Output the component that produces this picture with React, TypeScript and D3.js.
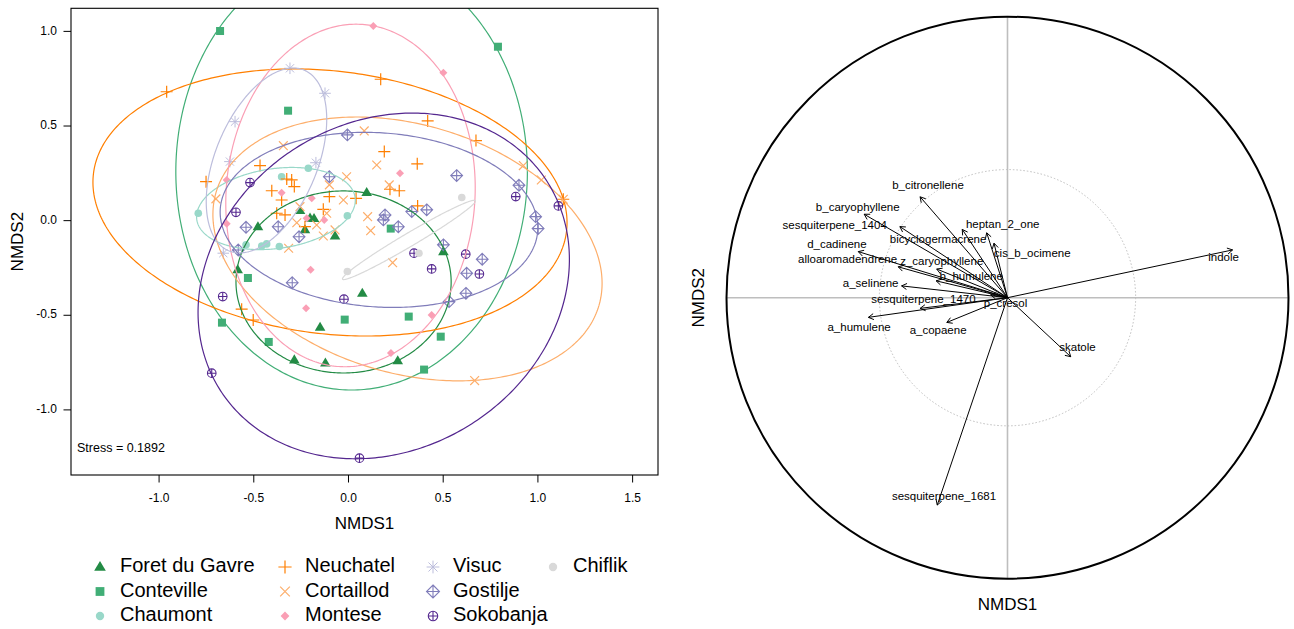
import React from "react";
import * as d3 from "d3";

// ---------- Left panel data (NMDS site scores) ----------
const groups = ["Foret du Gavre", "Conteville", "Chaumont", "Neuchatel", "Cortaillod", "Montese", "Visuc", "Gostilje", "Sokobanja", "Chiflik"];
const groupColors = ["#238b45", "#41ae76", "#99d8c9", "#ff7f00", "#fdae6b", "#fa9fb5", "#bcbddc", "#807dba", "#54278f", "#d9d9d9"];
const groupSymbols = ["triangle", "square", "circle", "plus", "cross", "diamond", "asterisk", "diamondPlus", "circlePlus", "circle"];

const foretPts = [[-0.256, 0.053], [-0.203, 0.013], [-0.182, 0.011], [-0.23, -0.049], [-0.071, -0.081], [0.096, 0.148], [-0.478, -0.032], [-0.585, -0.26], [-0.286, -0.736], [-0.122, -0.753], [-0.15, -0.563], [0.073, -0.384], [0.26, -0.741], [0.501, -0.164]];
const contevillePts = [[-0.678, 1.002], [-0.319, 0.581], [0.789, 0.919], [0.223, -0.042], [-0.531, -0.303], [-0.668, -0.539], [-0.421, -0.641], [-0.02, -0.523], [0.318, -0.507], [0.487, -0.613], [0.399, -0.787]];
const chaumontPts = [[-0.212, 0.277], [-0.353, 0.232], [-0.793, 0.039], [-0.006, 0.026], [-0.541, -0.128], [-0.458, -0.134], [-0.432, -0.123], [-0.365, -0.137]];
const neuchatelPts = [[-0.96, 0.681], [0.17, 0.747], [0.418, 0.527], [0.673, 0.423], [1.134, 0.113], [0.189, 0.365], [0.363, 0.3], [0.219, 0.166], [0.268, 0.158], [0.04, 0.118], [0.365, 0.078], [-0.752, 0.206], [-0.467, 0.291], [-0.326, 0.22], [-0.3, 0.215], [-0.286, 0.18], [-0.405, 0.158], [-0.353, 0.109], [-0.101, 0.127], [-0.133, 0.06], [-0.379, 0.039], [-0.335, 0.03], [-0.23, -0.032], [-0.564, -0.468], [-0.503, -0.525]];
const cortaillodPts = [[-0.344, 0.396], [-0.7, 0.115], [-0.01, 0.232], [-0.027, 0.109], [-0.101, 0.189], [-0.256, 0.074], [-0.115, 0.039], [-0.273, -0.011], [-0.168, -0.023], [-0.071, -0.049], [-0.133, -0.081], [0.083, 0.474], [0.149, 0.294], [0.215, 0.189], [0.101, 0.021], [0.117, -0.053], [0.923, 0.291], [1.018, 0.215], [0.233, -0.222], [0.666, -0.845], [-0.316, -0.146], [1.134, 0.113]];
const montesePts = [[0.131, 1.029], [0.501, 0.782], [-0.643, 0.215], [-0.353, 0.148], [-0.194, 0.118], [-0.128, 0.004], [-0.221, 0.013], [-0.643, -0.017], [0.272, 0.25], [-0.2, -0.26], [-0.224, -0.463], [0.224, -0.7], [0.439, -0.498]];
const visucPts = [[-0.309, 0.805], [-0.124, 0.673], [-0.599, 0.523], [-0.626, 0.312], [-0.172, 0.306], [-0.661, -0.172]];
const gostiljePts = [[-0.006, 0.453], [-0.101, 0.232], [-0.371, -0.032], [-0.541, -0.035], [-0.261, -0.085], [0.571, 0.238], [0.9, 0.187], [0.988, 0.021], [1.001, -0.042], [0.193, 0.03], [0.184, 0.004], [0.334, 0.048], [0.413, 0.057], [0.263, -0.032], [0.501, -0.128], [0.706, -0.204], [0.624, -0.278], [0.62, -0.384], [0.531, -0.428], [-0.582, -0.155], [-0.297, -0.328]];
const sokobanjaPts = [[-0.52, 0.201], [-0.594, 0.044], [-0.664, -0.401], [-0.722, -0.806], [-0.024, -0.415], [0.058, -1.255], [0.346, -0.172], [0.439, -0.255], [0.619, -0.177], [0.691, -0.282], [0.883, 0.127], [1.108, 0.078]];
const chiflikPts = [[0.598, 0.122], [0.372, -0.172], [-0.006, -0.269]];
const groupPoints = [foretPts, contevillePts, chaumontPts, neuchatelPts, cortaillodPts, montesePts, visucPts, gostiljePts, sokobanjaPts, chiflikPts];

// ellipse parameters per group (centre, semi-axes, rotation in degrees)
const ellipseCx = [-0.026, 0.0164, -0.383, -0.0977, 0.3115, 0.0106, -0.433, 0.161, 0.186, 0.319];
const ellipseCy = [-0.324, 0.259, 0.064, 0.096, -0.1495, 0.133, 0.318, 0.004, -0.345, -0.102];
const ellipseRx = [0.568, 0.928, 0.422, 1.258, 1.054, 0.657, 0.517, 0.84, 1.024, 0.407];
const ellipseRy = [0.481, 1.154, 0.211, 0.694, 0.656, 0.906, 0.269, 0.46, 0.864, 0.035];
const ellipseAngle = [0, 0, 8, -7, -16.6, -4, 67.4, -4, 32.6, 30.6];

const xTicks = [-1.0, -0.5, 0.0, 0.5, 1.0, 1.5];
const yTicks = [-1.0, -0.5, 0.0, 0.5, 1.0];
const stressText = "Stress = 0.1892";

// ---------- Right panel data (variable vectors) ----------
const varNames = ["indole", "b_citronellene", "b_caryophyllene", "sesquiterpene_1404", "heptan_2_one", "bicyclogermacrene", "cis_b_ocimene", "d_cadinene", "alloaromadendrene", "z_caryophyllene", "b_humulene", "a_selinene", "sesquiterpene_1470", "p_cresol", "a_humulene", "a_copaene", "skatole", "sesquiterpene_1681"];
const varX = [0.801, -0.311, -0.51, -0.383, -0.161, -0.074, -0.048, -0.531, -0.389, -0.252, -0.254, -0.377, -0.311, -0.06, -0.495, -0.216, 0.225, -0.25];
const varY = [0.17, 0.359, 0.297, 0.253, 0.243, 0.231, 0.194, 0.164, 0.11, 0.102, 0.06, 0.042, -0.038, 0.01, -0.07, -0.088, -0.21, -0.738];
const labelX = [0.769, -0.283, -0.533, -0.615, -0.017, -0.247, 0.088, -0.607, -0.569, -0.234, -0.129, -0.487, -0.299, -0.007, -0.528, -0.247, 0.249, -0.226];
const labelY = [0.141, 0.398, 0.32, 0.257, 0.26, 0.205, 0.157, 0.188, 0.133, 0.128, 0.074, 0.048, -0.009, -0.021, -0.106, -0.12, -0.18, -0.71];
const innerRadius = 0.456;

const FONT = "'Liberation Sans', Arial, Helvetica, sans-serif";

function Symbol({ x, y, type, color, k = 1 }: { x: number; y: number; type: string; color: string; k?: number }) {
  const sw = 1.2;
  switch (type) {
    case "triangle": {
      const r = 5.3 * k;
      return <path d={`M${x},${y - r * 1.05}L${x + r},${y + r * 0.65}L${x - r},${y + r * 0.65}Z`} fill={color} />;
    }
    case "square": {
      const h = 4 * k;
      return <rect x={x - h} y={y - h} width={2 * h} height={2 * h} fill={color} />;
    }
    case "circle":
      return <circle cx={x} cy={y} r={3.8 * k} fill={color} />;
    case "plus": {
      const h = 6 * k;
      return <path d={`M${x - h},${y}H${x + h}M${x},${y - h}V${y + h}`} stroke={color} strokeWidth={sw} fill="none" />;
    }
    case "cross": {
      const h = 4.4 * k;
      return <path d={`M${x - h},${y - h}L${x + h},${y + h}M${x - h},${y + h}L${x + h},${y - h}`} stroke={color} strokeWidth={sw} fill="none" />;
    }
    case "diamond": {
      const h = 4 * k;
      return <path d={`M${x},${y - h}L${x + h},${y}L${x},${y + h}L${x - h},${y}Z`} fill={color} />;
    }
    case "asterisk": {
      const h = 5.8 * k;
      const d = 4.1 * k;
      return <path d={`M${x - h},${y}H${x + h}M${x},${y - h}V${y + h}M${x - d},${y - d}L${x + d},${y + d}M${x - d},${y + d}L${x + d},${y - d}`} stroke={color} strokeWidth={1} fill="none" />;
    }
    case "diamondPlus": {
      const h = 5.9 * k;
      return <path d={`M${x},${y - h}L${x + h},${y}L${x},${y + h}L${x - h},${y}ZM${x - h},${y}H${x + h}M${x},${y - h}V${y + h}`} stroke={color} strokeWidth={1.1} fill="none" />;
    }
    case "circlePlus": {
      const h = 4.3 * k;
      return (
        <g>
          <circle cx={x} cy={y} r={h} stroke={color} strokeWidth={1.1} fill="none" />
          <path d={`M${x - h},${y}H${x + h}M${x},${y - h}V${y + h}`} stroke={color} strokeWidth={1.1} fill="none" />
        </g>
      );
    }
    default:
      return null;
  }
}

export default function App() {
  // left panel scales (asp = 1)
  const L = { left: 71, right: 658, top: 8.3, bottom: 475 };
  const xs = d3.scaleLinear().domain([-1.465, 1.634]).range([L.left, L.right]);
  const ys = d3.scaleLinear().domain([-1.344, 1.122]).range([L.bottom, L.top]);

  const ellipsePath = (i: number) => {
    const th = (ellipseAngle[i] * Math.PI) / 180;
    const ts = d3.range(0, 361).map((d) => (d * Math.PI) / 180);
    const pts = ts.map((t) => {
      const ex = ellipseRx[i] * Math.cos(t);
      const ey = ellipseRy[i] * Math.sin(t);
      return [ellipseCx[i] + ex * Math.cos(th) - ey * Math.sin(th), ellipseCy[i] + ex * Math.sin(th) + ey * Math.cos(th)] as [number, number];
    });
    return d3.line<[number, number]>().x((p) => xs(p[0])).y((p) => ys(p[1]))(pts) || "";
  };

  // right panel scales
  const cx0 = 1007.5, cy0 = 297.7, R = 281;
  const rx = d3.scaleLinear().domain([-1, 1]).range([cx0 - R, cx0 + R]);
  const ry = d3.scaleLinear().domain([-1, 1]).range([cy0 + R, cy0 - R]);

  const legendCols = [100, 285, 433, 553];
  const legendRows = [567, 591.5, 616];

  return (
    <svg width={1294} height={629} style={{ position: "absolute", left: 0, top: 0, background: "#fff" }} fontFamily={FONT}>
      <defs>
        <clipPath id="plotclip">
          <rect x={L.left} y={L.top} width={L.right - L.left} height={L.bottom - L.top} />
        </clipPath>
      </defs>
      {/* Left panel */}
      <g clipPath="url(#plotclip)">
        {groups.map((g, i) => (
          <g key={g}>
            {groupPoints[i].map((p, j) => (
              <Symbol key={j} x={xs(p[0])} y={ys(p[1])} type={groupSymbols[i]} color={groupColors[i]} />
            ))}
          </g>
        ))}
        {groups.map((g, i) => (
          <path key={"e" + g} d={ellipsePath(i)} fill="none" stroke={groupColors[i]} strokeWidth={1.2} />
        ))}
      </g>
      <rect x={L.left} y={L.top} width={L.right - L.left} height={L.bottom - L.top} fill="none" stroke="#000" strokeWidth={1.1} />
      {xTicks.map((t) => (
        <g key={"xt" + t}>
          <line x1={xs(t)} x2={xs(t)} y1={L.bottom} y2={L.bottom + 7.5} stroke="#000" />
          <text x={xs(t)} y={L.bottom + 24} fontSize={12} textAnchor="middle" dominantBaseline="middle">
            {t.toFixed(1)}
          </text>
        </g>
      ))}
      {yTicks.map((t) => (
        <g key={"yt" + t}>
          <line x1={L.left - 7.5} x2={L.left} y1={ys(t)} y2={ys(t)} stroke="#000" />
          <text x={57} y={ys(t)} fontSize={12} textAnchor="end" dominantBaseline="middle">
            {t.toFixed(1)}
          </text>
        </g>
      ))}
      <text x={(L.left + L.right) / 2} y={525} fontSize={17} textAnchor="middle" dominantBaseline="middle">NMDS1</text>
      <text transform={`translate(19,${(L.top + L.bottom) / 2}) rotate(-90)`} fontSize={17} textAnchor="middle" dominantBaseline="middle">NMDS2</text>
      <text x={77} y={449} fontSize={12.5} dominantBaseline="middle">{stressText}</text>

      {/* Legend */}
      {groups.map((g, i) => {
        const col = Math.floor(i / 3);
        const row = i % 3;
        const x = legendCols[col];
        const y = legendRows[row];
        return (
          <g key={"lg" + g}>
            <Symbol x={x} y={y} type={groupSymbols[i]} color={groupColors[i]} k={1.1} />
            <text x={x + 20} y={y} fontSize={20} dominantBaseline="middle">{g}</text>
          </g>
        );
      })}

      {/* Right panel */}
      <line x1={rx(-1)} x2={rx(1)} y1={ry(0)} y2={ry(0)} stroke="#bebebe" strokeWidth={1.6} />
      <line x1={rx(0)} x2={rx(0)} y1={ry(-1)} y2={ry(1)} stroke="#bebebe" strokeWidth={1.6} />
      <circle cx={rx(0)} cy={ry(0)} r={rx(innerRadius) - rx(0)} fill="none" stroke="#bebebe" strokeWidth={1} strokeDasharray="1.5,2" />
      <circle cx={rx(0)} cy={ry(0)} r={rx(1) - rx(0)} fill="none" stroke="#000" strokeWidth={2} />
      {varNames.map((v, i) => {
        const x0 = rx(0), y0 = ry(0);
        const x1 = rx(varX[i]), y1 = ry(varY[i]);
        const ang = Math.atan2(y1 - y0, x1 - x0);
        const hl = 6, ha = Math.PI / 6;
        const hx1 = x1 - hl * Math.cos(ang - ha), hy1 = y1 - hl * Math.sin(ang - ha);
        const hx2 = x1 - hl * Math.cos(ang + ha), hy2 = y1 - hl * Math.sin(ang + ha);
        return (
          <g key={"a" + v}>
            <path d={`M${x0},${y0}L${x1},${y1}M${hx1},${hy1}L${x1},${y1}L${hx2},${hy2}`} stroke="#000" strokeWidth={1} fill="none" />
          </g>
        );
      })}
      {varNames.map((v, i) => (
        <text key={"l" + v} x={rx(labelX[i])} y={ry(labelY[i])} fontSize={11.5} textAnchor="middle" dominantBaseline="middle">
          {v}
        </text>
      ))}
      <text x={rx(0)} y={606} fontSize={17} textAnchor="middle" dominantBaseline="middle">NMDS1</text>
      <text transform={`translate(700,${ry(0)}) rotate(-90)`} fontSize={17} textAnchor="middle" dominantBaseline="middle">NMDS2</text>
    </svg>
  );
}
